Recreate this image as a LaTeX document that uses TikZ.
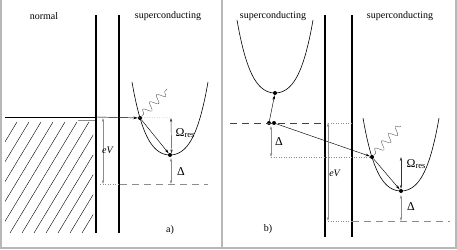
\documentclass[tikz,border=0pt]{standalone}
\usepackage{fontspec}
\setmainfont{Liberation Serif}
\usetikzlibrary{arrows.meta, decorations.pathmorphing}
\definecolor{framegray}{HTML}{B8B8B8}
\definecolor{guidegray}{HTML}{8C8C8C}

% quasiparticle band with vertex at (#1,#2)
\newcommand{\qpband}[2]{%
  \draw[band] plot[domain=-3.8:3.8, samples=61, smooth]
    ({#1+10*\x},{#2-(2.548*\x*\x+0.1736*\x*\x*\x*\x)});}

\begin{document}
\begin{tikzpicture}[x=1pt, y=-1pt,
  barrier/.style={line width=1.3pt},
  band/.style={line width=0.6pt},
  hop/.style={line width=0.45pt, -{Stealth[length=4.5pt,width=2.6pt]}},
  span/.style={line width=0.45pt, guidegray, {Stealth[length=4pt,width=2.4pt]}-{Stealth[length=4pt,width=2.4pt]}},
  guide/.style={guidegray, dotted, line width=0.5pt},
  level/.style={guidegray, line width=0.8pt, dash pattern=on 7pt off 5pt},
  photon/.style={black!65, line width=0.4pt, decorate,
    decoration={snake, amplitude=4pt, segment length=10pt, pre length=3pt}},
  lbl/.style={font=\fontsize{10}{12}\selectfont},
  sym/.style={font=\fontsize{12}{14}\selectfont},
  dot/.style={circle, fill, inner sep=0pt, minimum size=4pt},
]
  \useasboundingbox (0,0) rectangle (457,249);

  % Frame
  \draw[framegray, line width=1.5pt] (1,0) -- (1,248) -- (456,248) -- (456,0);
  \draw[framegray, line width=1.5pt] (222,0) -- (222,248);

  % ---------- a) normal / superconducting ----------
  \node[lbl] at (44,16) {normal};
  \node[lbl] at (168,16) {superconducting};

  % Tunnel barrier
  \draw[barrier] (96,15) -- (96,233);
  \draw[barrier] (119,15) -- (119,233);

  % Filled states of the normal metal
  \draw[line width=0.6pt] (5,117) -- (96,117);
  \begin{scope}
    \clip (5,122) rectangle (93,233);
    \foreach \i in {0,...,14}
      \draw[line width=0.4pt] (-62+12*\i,233) -- ++(70,-116);
  \end{scope}
  \draw[guidegray, line width=0.5pt] (78,120) -- (95,120);

  \qpband{170}{155}
  \node[dot] (aIn) at (140,118) {};
  \node[dot] (aLow) at (170,155) {};
  \coordinate (aEdge) at (97,117);
  \coordinate (aRes) at (171,118);
  \coordinate (aGapTop) at (171,158);
  \coordinate (aGapBot) at (171,184);
  \coordinate (aVTop) at (103,118);
  \coordinate (aVBot) at (103,184);
  \coordinate (aWave) at (167,89);

  \draw[guide] (aEdge) -- (aRes);
  \draw[hop] (aEdge) -- (aIn);
  \draw[hop] (aIn) -- (aLow);
  \draw[photon] (aIn) -- (aWave);
  \draw[span, black!80] (aRes) -- (aLow.north east);
  \draw[span] (aVTop) -- (aVBot);
  \draw[span] (aGapTop) -- (aGapBot);
  \draw[guide] (100,184) -- (120,184);
  \draw[level] (120,184) -- (208,184);

  \node[lbl, inner sep=0pt] at (108,150) {\textit{eV}};
  \node[sym] at (185,133) {Ω{\fontsize{8.5}{9}\selectfont\raisebox{-0.4ex}{res}}};
  \node[sym] at (181,172) {Δ};
  \node[lbl] at (170,230) {a)};

  % ---------- b) superconducting / superconducting ----------
  \node[lbl] at (273,16) {superconducting};
  \node[lbl] at (400,16) {superconducting};

  % Tunnel barrier
  \draw[barrier] (325,15) -- (325,237);
  \draw[barrier] (352,15) -- (352,237);

  \qpband{275}{93}
  \qpband{401}{191}
  \node[dot] (bTop) at (275,93) {};
  \node[dot] (bL1) at (269,123) {};
  \node[dot] (bL2) at (274,123) {};
  \node[dot] (bIn) at (372,157) {};
  \node[dot] (bLow) at (401,191) {};
  \coordinate (bEdge) at (325,123);
  \coordinate (bVTop) at (328,123);
  \coordinate (bVBot) at (328,221);
  \coordinate (bGapTop) at (271,126);
  \coordinate (bGapBot) at (271,157);
  \coordinate (bRes) at (401,157);
  \coordinate (bGap2Top) at (401,195);
  \coordinate (bGap2Bot) at (401,221);
  \coordinate (bWave) at (401,126);

  \draw[level, black!75] (230,123) -- (bEdge);
  \draw[guide] (bVTop) -- (352,123);
  \draw[guide] (bGapBot) -- (bIn);
  \draw[hop] (bL1) -- (bTop);
  \draw[hop] (bL2) -- (bIn);
  \draw[hop] (bIn) -- (bLow);
  \draw[photon] (bIn) -- (bWave);
  \draw[span, black!80] (bRes) -- (bLow.north);
  \draw[span] (bGapTop) -- (bGapBot);
  \draw[span] (bGap2Top) -- (bGap2Bot);
  \draw[span] (bVTop) -- (bVBot);
  \draw[guide] (bVBot) -- (352,221);
  \draw[level] (352,221) -- (450,221);

  \node[lbl, inner sep=0pt] at (335,173) {\textit{eV}};
  \node[sym] at (279,142) {Δ};
  \node[sym] at (416,164) {Ω{\fontsize{8.5}{9}\selectfont\raisebox{-0.4ex}{res}}};
  \node[sym] at (411,207) {Δ};
  \node[lbl] at (268,229) {b)};
\end{tikzpicture}
\end{document}
